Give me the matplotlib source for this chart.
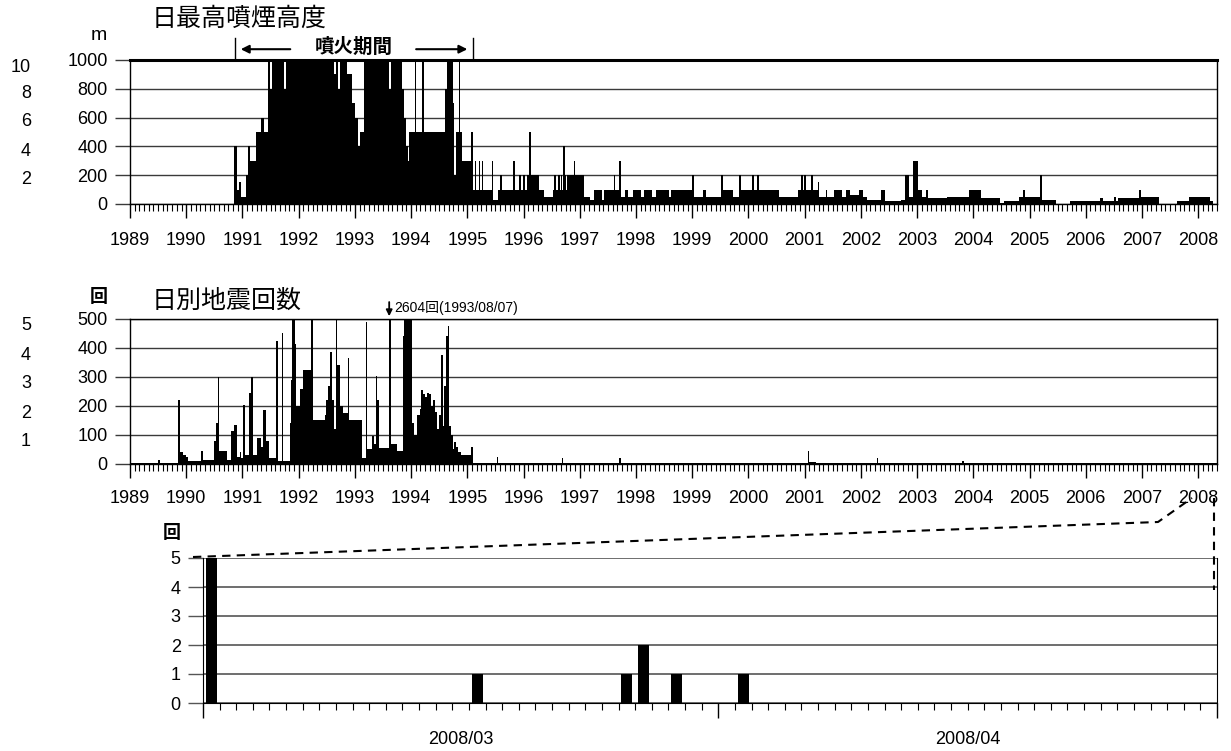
import numpy as np
import matplotlib
matplotlib.use('Agg')
import matplotlib.pyplot as plt
import matplotlib.dates as mdates
from matplotlib.ticker import FixedLocator, MultipleLocator
from matplotlib.lines import Line2D

plt.rcParams['font.family'] = ['Liberation Sans', 'Noto Sans CJK JP']

# 日最高噴煙高度 (m) : 区間の開始(西暦の小数) と高さ
smoke_start = [1989.000, 1990.857, 1990.898, 1990.940, 1990.975, 1991.058, 1991.095,
               1991.140, 1991.236, 1991.331, 1991.380, 1991.450, 1991.491, 1991.521,
               1991.746, 1991.776, 1992.636, 1992.660, 1992.707, 1992.737, 1992.855,
               1992.944, 1993.004, 1993.063, 1993.093, 1993.170, 1993.609, 1993.638,
               1993.834, 1993.870, 1993.905, 1993.940, 1993.960, 1994.071, 1994.090,
               1994.200, 1994.230, 1994.605, 1994.635, 1994.753, 1994.770, 1994.790,
               1994.855, 1994.875, 1994.900, 1995.068, 1995.109, 1995.140, 1995.160,
               1995.200, 1995.220, 1995.255, 1995.275, 1995.430, 1995.465, 1995.550,
               1995.580, 1995.615, 1995.810, 1995.845, 1995.920, 1995.955, 1995.990,
               1996.025, 1996.060, 1996.090, 1996.100, 1996.130, 1996.270, 1996.370,
               1996.520, 1996.550, 1996.585, 1996.610, 1996.645, 1996.660, 1996.690,
               1996.700, 1996.730, 1996.760, 1996.780, 1996.890, 1996.910, 1997.080,
               1997.190, 1997.260, 1997.400, 1997.430, 1997.600, 1997.635, 1997.700,
               1997.735, 1997.800, 1997.860, 1997.940, 1998.080, 1998.150, 1998.290,
               1998.360, 1998.580, 1998.620, 1999.000, 1999.035, 1999.200, 1999.250,
               1999.510, 1999.545, 1999.730, 1999.830, 1999.865, 2000.070, 2000.105,
               2000.150, 2000.185, 2000.550, 2000.880, 2000.930, 2000.970, 2000.990,
               2001.030, 2001.120, 2001.155, 2001.230, 2001.260, 2001.380, 2001.400,
               2001.530, 2001.670, 2001.740, 2001.810, 2001.960, 2002.030, 2002.100,
               2002.350, 2002.420, 2002.710, 2002.780, 2002.850, 2002.920, 2003.020,
               2003.090, 2003.160, 2003.190, 2003.530, 2003.930, 2004.140, 2004.470,
               2004.540, 2004.820, 2004.890, 2004.925, 2005.180, 2005.215, 2005.470,
               2005.720, 2006.260, 2006.300, 2006.510, 2006.530, 2006.580, 2006.950,
               2006.985, 2007.300, 2007.620, 2007.840, 2008.200, 2008.270]
smoke_val = [0, 400, 100, 150, 50, 200, 400,
             300, 500, 600, 500, 1000, 800, 1000,
             800, 1000, 900, 1000, 800, 1000, 900,
             700, 600, 400, 500, 1000, 800, 1000,
             800, 600, 400, 300, 500, 1000, 500,
             1000, 500, 800, 1000, 700, 200, 500,
             1000, 500, 300, 500, 100, 300, 100,
             300, 100, 300, 100, 300, 30, 100,
             200, 100, 300, 100, 200, 100, 200,
             100, 200, 100, 500, 200, 100, 50,
             100, 200, 100, 200, 100, 200, 100,
             400, 200, 100, 200, 300, 200, 50,
             30, 100, 30, 100, 200, 100, 300,
             50, 100, 50, 100, 50, 100, 50,
             100, 50, 100, 200, 50, 100, 50,
             200, 100, 50, 200, 100, 200, 100,
             200, 100, 50, 100, 200, 100, 200,
             100, 200, 100, 150, 50, 100, 50,
             100, 50, 100, 60, 100, 50, 30,
             100, 20, 30, 200, 50, 300, 100,
             50, 100, 40, 50, 100, 40, 10,
             20, 50, 100, 50, 200, 30, 0,
             20, 40, 20, 50, 20, 40, 100,
             50, 0, 20, 50, 20, 0]

# 日別地震回数 (回)
quake_start = [1989.00, 1989.50, 1989.54, 1989.85, 1989.89, 1989.95, 1990.00, 1990.03,
               1990.26, 1990.29, 1990.49, 1990.53, 1990.56, 1990.59, 1990.73, 1990.80,
               1990.85, 1990.91, 1990.95, 1990.98, 1991.01, 1991.05, 1991.12, 1991.15,
               1991.18, 1991.26, 1991.33, 1991.37, 1991.41, 1991.47, 1991.59, 1991.63,
               1991.70, 1991.73, 1991.85, 1991.87, 1991.89, 1991.93, 1991.96, 1992.03,
               1992.07, 1992.22, 1992.26, 1992.46, 1992.49, 1992.53, 1992.56, 1992.60,
               1992.63, 1992.66, 1992.69, 1992.74, 1992.78, 1992.87, 1992.90, 1993.13,
               1993.19, 1993.22, 1993.30, 1993.34, 1993.37, 1993.40, 1993.43, 1993.60,
               1993.64, 1993.74, 1993.85, 1993.88, 1994.01, 1994.06, 1994.10, 1994.15,
               1994.18, 1994.21, 1994.25, 1994.28, 1994.32, 1994.35, 1994.39, 1994.42,
               1994.46, 1994.49, 1994.53, 1994.56, 1994.59, 1994.62, 1994.65, 1994.68,
               1994.71, 1994.74, 1994.77, 1994.80, 1994.84, 1994.88, 1995.06, 1995.10,
               1995.52, 1995.55, 1996.68, 1996.71, 1997.70, 1997.73, 2001.05, 2001.08,
               2001.20, 2002.28, 2002.31, 2003.80, 2003.83]
quake_val = [5, 15, 5, 220, 40, 30, 25, 10,
             45, 15, 80, 140, 300, 45, 15, 115,
             135, 25, 40, 20, 205, 30, 245, 300,
             30, 90, 60, 185, 80, 20, 425, 10,
             450, 10, 140, 290, 500, 415, 200, 260,
             325, 500, 150, 170, 220, 270, 385, 220,
             120, 500, 340, 200, 175, 365, 150, 20,
             490, 50, 95, 70, 305, 220, 55, 2604,
             70, 45, 440, 500, 140, 100, 170, 190,
             255, 240, 230, 245, 240, 200, 220, 180,
             120, 170, 375, 130, 270, 440, 475, 130,
             100, 50, 75, 60, 40, 30, 60, 5,
             25, 5, 20, 5, 20, 5, 45, 8,
             5, 20, 5, 10, 5]

series_end = 2008 + 4 / 12
years = list(range(1989, 2009))

# 2008年3月〜4月の日別地震回数
zoom_days = ['2008-03-01', '2008-03-17', '2008-03-26', '2008-03-27', '2008-03-29', '2008-04-02']
zoom_counts = [5, 1, 1, 2, 1, 1]
month_starts = ['2008-03-01', '2008-04-01', '2008-05-01']
month_labels = ['2008/03', '2008/04']

W, H = 1231, 751
GRID = '#3a3a3a'
fig = plt.figure(figsize=(W / 100, H / 100), dpi=100)


def box(l, t, r, b):
    return [l / W, 1 - b / H, (r - l) / W, (b - t) / H]


def pt(x, y):
    return x / W, 1 - y / H


def year_axis(ax, top, step, pad):
    ax.set_xlim(1989, series_end)
    ax.set_ylim(0, top)
    ax.set_axisbelow(True)
    ax.yaxis.grid(True, color=GRID, lw=1)
    ax.set_yticks(np.arange(0, top + 1, step))
    ax.xaxis.set_major_locator(FixedLocator(years))
    ax.set_xticklabels([str(y) for y in years])
    ax.xaxis.set_minor_locator(MultipleLocator(1 / 12))
    ax.tick_params(axis='x', which='major', length=10, width=1, pad=pad, labelsize=13)
    ax.tick_params(axis='x', which='minor', length=5, width=0.8)
    ax.tick_params(axis='y', length=11, width=1, color=GRID, pad=5, labelsize=13)
    for s in ax.spines.values():
        s.set_linewidth(1)


# 上段: 日最高噴煙高度
ax1 = fig.add_axes(box(130, 60, 1217, 204))
ax1.stairs(smoke_val, np.append(smoke_start, series_end), fill=True, color='black', lw=0)
year_axis(ax1, 1000, 200, 10)
ax1.spines['top'].set_linewidth(2.2)

# 噴火期間
erupt = [1990.87, 1995.10]
for x in erupt:
    ax1.plot([x, x], [1000, 1155], color='black', lw=1, clip_on=False)
ax1.annotate('', xy=(1990.92, 1075), xytext=(1991.90, 1075),
             arrowprops=dict(arrowstyle='-|>', color='black', lw=1.5, mutation_scale=12),
             annotation_clip=False)
ax1.annotate('', xy=(1995.05, 1075), xytext=(1994.04, 1075),
             arrowprops=dict(arrowstyle='-|>', color='black', lw=1.5, mutation_scale=12),
             annotation_clip=False)
ax1.text(1992.98, 1085, '噴火期間', ha='center', va='center', fontsize=14,
         fontweight='bold', family=['Noto Sans CJK JP'])

# 中段: 日別地震回数
ax2 = fig.add_axes(box(130, 319, 1217, 464))
ax2.stairs(quake_val, np.append(quake_start, series_end), fill=True, color='black', lw=0)
year_axis(ax2, 500, 100, 9)
ax2.annotate('', xy=(1993.61, 500), xytext=(1993.61, 568),
             arrowprops=dict(arrowstyle='-|>', color='black', lw=1.3, mutation_scale=9),
             annotation_clip=False)
ax2.text(1993.70, 538, '2604回(1993/08/07)', ha='left', va='center', fontsize=10)

# 下段: 2008年3〜4月
ax3 = fig.add_axes(box(203, 558, 1217, 703))
day_num = mdates.date2num(np.array(zoom_days, dtype='datetime64[D]'))
mon_num = mdates.date2num(np.array(month_starts, dtype='datetime64[D]'))
ax3.bar(day_num + 0.5, zoom_counts, width=0.66, color='black')
ax3.set_xlim(mon_num[0], mon_num[-1])
ax3.set_ylim(0, 5)
ax3.set_yticks(range(6))
ax3.set_axisbelow(True)
ax3.yaxis.grid(True, color='#555555', lw=1.2)
ax3.xaxis.set_major_locator(FixedLocator(mon_num))
ax3.xaxis.set_minor_locator(MultipleLocator(1))
ax3.tick_params(axis='x', which='major', length=11, width=1, labelbottom=False)
ax3.tick_params(axis='x', which='minor', length=5, width=0.8)
ax3.tick_params(axis='y', length=11, width=1, color='#555555', pad=5, labelsize=13)
ax3.spines['top'].set_visible(False)
for i, lab in enumerate(month_labels):
    ax3.annotate(lab, xy=((mon_num[i] + mon_num[i + 1]) / 2, 0), xycoords=('data', 'axes fraction'),
                 xytext=(0, -26), textcoords='offset points', ha='center', va='center', fontsize=13)

# タイトル・単位
fig.text(*pt(152, 19), '日最高噴煙高度', fontsize=18, va='center', ha='left', family=['Noto Sans CJK JP'])
fig.text(*pt(152, 301), '日別地震回数', fontsize=18, va='center', ha='left', family=['Noto Sans CJK JP'])
fig.text(*pt(99, 35), 'm', fontsize=14, ha='center', va='center')
fig.text(*pt(99, 296), '回', fontsize=13, fontweight='bold', ha='center', va='center',
         family=['Noto Sans CJK JP'])
fig.text(*pt(172, 533), '回', fontsize=13, fontweight='bold', ha='center', va='center',
         family=['Noto Sans CJK JP'])

# 左端の目盛の残り
for lab, y in zip(['10', '8', '6', '4', '2'], [68, 94, 122, 151, 180]):
    fig.text(*pt(31, y), lab, fontsize=13, ha='right', va='center')
for lab, y in zip(['5', '4', '3', '2', '1'], [326, 355, 384, 413, 441]):
    fig.text(*pt(31, y), lab, fontsize=13, ha='right', va='center')

# 拡大範囲を示す破線
xs, ys = zip(pt(193, 557), pt(1158, 522), pt(1192, 498))
fig.add_artist(Line2D(xs, ys, transform=fig.transFigure, color='black', lw=1.5, ls=(0, (4, 3))))
xs, ys = zip(pt(1214, 498), pt(1214, 590))
fig.add_artist(Line2D(xs, ys, transform=fig.transFigure, color='black', lw=1.5, ls=(0, (4, 3))))

fig.savefig('out.png', dpi=100)
